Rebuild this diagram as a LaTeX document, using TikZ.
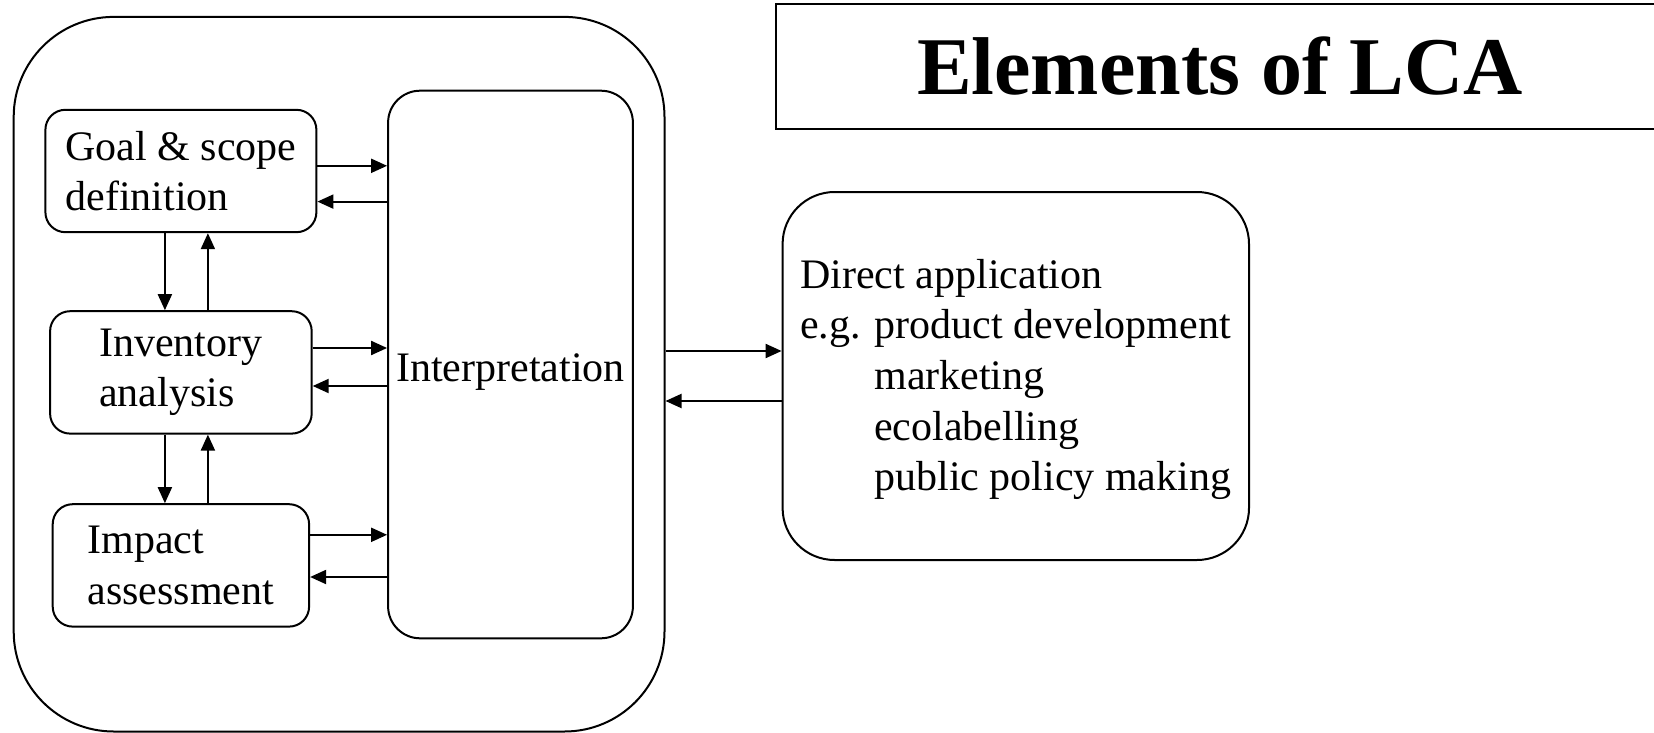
\documentclass[tikz,border=0pt]{standalone}
\usepackage{fontspec}
\setmainfont{Liberation Serif}
\usepackage{tikz}
\usetikzlibrary{arrows.meta}
\tikzstyle{r} = [rectangle, rounded corners=10pt, draw=black, line width=1pt, align=left, font=\fontsize{21}{25.3}\selectfont, minimum height=61.2pt]
\tikzstyle{a} = [line width=1pt, -{Triangle[length=8pt,width=7pt]}]

\begin{document}
\begin{tikzpicture}[x=0.5pt,y=-0.5pt,node distance=98.5pt]
			\useasboundingbox (0,0) rectangle (1654,733);
			\node[r,rounded corners=50pt,minimum width=325.4pt,minimum height=357.3pt](lca) at (339.1,374.2){};
			\node[r,minimum width=135.5pt](goal) at (180.9,171){Goal \& scope\\definition};
			\node[r,minimum width=130.8pt,below of=goal,yshift=-2.2pt](inv){Inventory\\analysis};
			\node[r,minimum width=128.2pt,below of=inv,yshift=2pt](imp){Impact\\assessment};
			\node[r,rounded corners=16pt,minimum width=122.4pt,minimum height=273.8pt,text height=21.5pt,text depth=4.6pt](interp) at (510.5,364.5){Interpretation};
			\node[r,rounded corners=26pt,minimum width=233.2pt,minimum height=184pt](app) at (1015.8,376){\rule{0pt}{18pt}Direct application\\e.g. product development\\\hspace*{37pt}marketing\\\hspace*{37pt}ecolabelling\\\hspace*{37pt}public policy making};
			\node[draw,line width=1pt,minimum width=444pt,minimum height=62.5pt,font=\fontsize{41}{49}\selectfont\bfseries](title) at (1220,66.5){Elements of LCA};
			\draw[a] ([yshift=2.6pt]goal.east) -- ([yshift=2.6pt]goal.east -| interp.west);
			\draw[a] ([yshift=-15.3pt]goal.east -| interp.west) -- ([yshift=-15.3pt]goal.east);
			\draw[a] ([yshift=12.2pt]inv.east) -- ([yshift=12.2pt]inv.east -| interp.west);
			\draw[a] ([yshift=-6.8pt]inv.east -| interp.west) -- ([yshift=-6.8pt]inv.east);
			\draw[a] ([yshift=15.3pt]imp.east) -- ([yshift=15.3pt]imp.east -| interp.west);
			\draw[a] ([yshift=-5.8pt]imp.east -| interp.west) -- ([yshift=-5.8pt]imp.east);
			\draw[a] ([xshift=-8pt]goal.south) -- ([xshift=-8pt]goal.south |- inv.north);
			\draw[a] ([xshift=13.5pt]inv.north) -- ([xshift=13.5pt]inv.north |- goal.south);
			\draw[a] ([xshift=-8pt]inv.south) -- ([xshift=-8pt]inv.south |- imp.north);
			\draw[a] ([xshift=13.5pt]imp.north) -- ([xshift=13.5pt]imp.north |- inv.south);
			\draw[a] ([yshift=12.5pt]app.west -| lca.east) -- ([yshift=12.5pt]app.west);
			\draw[a] ([yshift=-12.5pt]app.west) -- ([yshift=-12.5pt]app.west -| lca.east);
		\end{tikzpicture}
\end{document}
